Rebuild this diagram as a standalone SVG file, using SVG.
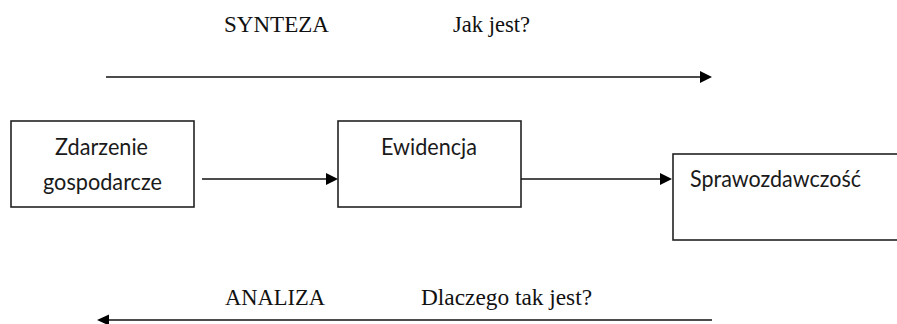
<svg xmlns="http://www.w3.org/2000/svg" width="897" height="324" viewBox="0 0 897 324">
  <style>
    .serif { font-family: "Liberation Serif", "Times New Roman", serif; font-size: 23px; fill: #111; }
    .box { fill: #fff; stroke: #222; stroke-width: 1.6; }
    .lbl { font-family: Lato, "Open Sans", sans-serif; font-size: 23px; fill: #1a1a1a; }
    .line { stroke: #111; stroke-width: 1.6; fill: none; }
    .head { fill: #000; }
  </style>
  <rect width="897" height="324" fill="#fff"/>
  <text class="serif" x="224" y="32" textLength="105" lengthAdjust="spacingAndGlyphs">SYNTEZA</text>
  <text class="serif" x="453" y="32" textLength="77" lengthAdjust="spacingAndGlyphs">Jak jest?</text>
  <text class="serif" x="225" y="305" textLength="100" lengthAdjust="spacingAndGlyphs">ANALIZA</text>
  <text class="serif" x="421" y="305" textLength="171" lengthAdjust="spacingAndGlyphs">Dlaczego tak jest?</text>

  <g id="node-zdarzenie">
    <rect class="box" x="11" y="121" width="183" height="86"/>
    <text class="lbl" x="55" y="155" textLength="93" lengthAdjust="spacingAndGlyphs">Zdarzenie</text>
    <text class="lbl" x="43" y="190" textLength="119" lengthAdjust="spacingAndGlyphs">gospodarcze</text>
  </g>
  <g id="node-ewidencja">
    <rect class="box" x="338" y="121" width="183" height="86"/>
    <text class="lbl" x="381" y="155" textLength="96" lengthAdjust="spacingAndGlyphs">Ewidencja</text>
  </g>
  <g id="node-sprawozdawczosc">
    <rect class="box" x="673" y="154" width="240" height="86"/>
    <text class="lbl" x="690" y="187" textLength="171" lengthAdjust="spacingAndGlyphs">Sprawozdawczość</text>
  </g>

  <g id="connectors">
    <line class="line" x1="106" y1="77" x2="700" y2="77"/>
    <polygon class="head" points="700,71 712,77 700,83"/>
    <line class="line" x1="202" y1="179" x2="326" y2="179"/>
    <polygon class="head" points="326,173 338,179 326,185"/>
    <line class="line" x1="521" y1="179" x2="661" y2="179"/>
    <polygon class="head" points="660,173 672,179 660,185"/>
    <line class="line" x1="109" y1="320" x2="712" y2="320"/>
    <polygon class="head" points="109,314.5 97,320 109,325.5"/>
  </g>
</svg>
